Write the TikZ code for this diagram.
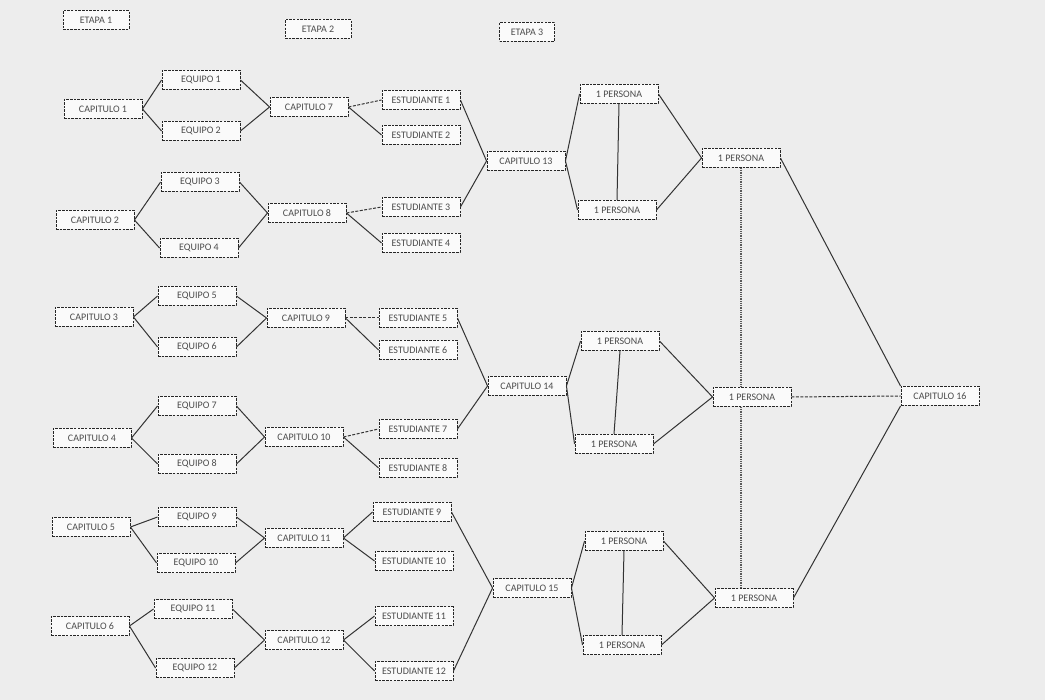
\documentclass[tikz,border=0pt]{standalone}
\usepackage{fontspec}
\setmainfont{Carlito}
\usetikzlibrary{calc}
\tikzset{
	caja/.style={draw=black!85, dash pattern=on 2.5pt off 1.2pt, line width=0.9pt, fill=black!2, minimum width=78pt, minimum height=19pt, inner sep=1pt, font=\fontsize{10}{11}\selectfont, text=black!70},
	etapa/.style={caja, minimum width=66pt},
	linea/.style={line width=1pt, color=black!80},
	lineapunt/.style={linea, dash pattern=on 3pt off 1.5pt},
	lineagruesa/.style={line width=2pt, color=black!65, dash pattern=on 1pt off 0.8pt}
}

\begin{document}
\begin{tikzpicture}[x=1pt, y=-1pt]
			%%%%% START %%%%%
			
			\fill[black!7] (0, 0) rectangle (1045, 700);
			\useasboundingbox (0, 0) rectangle (1045, 700);
			
			\node[etapa] (et1) at (96, 20) {ETAPA 1};
			\node[etapa] (et2) at (318, 29) {ETAPA 2};
			\node[etapa, minimum width=55pt] (et3) at (527, 32) {ETAPA 3};
			
			% etapa 1
			\node[caja] (c1) at (103, 109) {CAPITULO 1};
			\node[caja] (c2) at (95, 220) {CAPITULO 2};
			\node[caja] (c3) at (94, 317) {CAPITULO 3};
			\node[caja] (c4) at (92, 438) {CAPITULO 4};
			\node[caja] (c5) at (91, 527) {CAPITULO 5};
			\node[caja] (c6) at (90, 626) {CAPITULO 6};
			
			\node[caja] (e1) at (201, 80) {EQUIPO 1};
			\node[caja] (e2) at (201, 131) {EQUIPO 2};
			\node[caja] (e3) at (200, 182) {EQUIPO 3};
			\node[caja] (e4) at (199, 248) {EQUIPO 4};
			\node[caja] (e5) at (197, 296) {EQUIPO 5};
			\node[caja] (e6) at (197, 347) {EQUIPO 6};
			\node[caja] (e7) at (197, 406) {EQUIPO 7};
			\node[caja] (e8) at (197, 464) {EQUIPO 8};
			\node[caja] (e9) at (197, 517) {EQUIPO 9};
			\node[caja] (e10) at (196, 563) {EQUIPO 10};
			\node[caja] (e11) at (193, 609) {EQUIPO 11};
			\node[caja] (e12) at (195, 668) {EQUIPO 12};
			
			% etapa 2
			\node[caja] (c7) at (309, 107) {CAPITULO 7};
			\node[caja] (c8) at (307, 213) {CAPITULO 8};
			\node[caja] (c9) at (306, 318) {CAPITULO 9};
			\node[caja] (c10) at (304, 437) {CAPITULO 10};
			\node[caja] (c11) at (304, 538) {CAPITULO 11};
			\node[caja] (c12) at (304, 640) {CAPITULO 12};
			
			\node[caja] (s1) at (421, 100) {ESTUDIANTE 1};
			\node[caja] (s2) at (421, 135) {ESTUDIANTE 2};
			\node[caja] (s3) at (421, 207) {ESTUDIANTE 3};
			\node[caja] (s4) at (421, 243) {ESTUDIANTE 4};
			\node[caja] (s5) at (418, 318) {ESTUDIANTE 5};
			\node[caja] (s6) at (418, 350) {ESTUDIANTE 6};
			\node[caja] (s7) at (418, 429) {ESTUDIANTE 7};
			\node[caja] (s8) at (418, 468) {ESTUDIANTE 8};
			\node[caja] (s9) at (412, 512) {ESTUDIANTE 9};
			\node[caja] (s10) at (414, 561) {ESTUDIANTE 10};
			\node[caja] (s11) at (414, 616) {ESTUDIANTE 11};
			\node[caja] (s12) at (414, 671) {ESTUDIANTE 12};
			
			% etapa 3
			\node[caja] (c13) at (526, 161) {CAPITULO 13};
			\node[caja] (c14) at (527, 386) {CAPITULO 14};
			\node[caja] (c15) at (532, 588) {CAPITULO 15};
			
			\node[caja] (p1a) at (619, 94) {1 PERSONA};
			\node[caja] (p1b) at (617, 210) {1 PERSONA};
			\node[caja] (p2a) at (620, 341) {1 PERSONA};
			\node[caja] (p2b) at (614, 444) {1 PERSONA};
			\node[caja] (p3a) at (624, 541) {1 PERSONA};
			\node[caja] (p3b) at (622, 645) {1 PERSONA};
			
			\node[caja] (r1) at (741, 158) {1 PERSONA};
			\node[caja] (r2) at (752, 397) {1 PERSONA};
			\node[caja] (r3) at (754, 598) {1 PERSONA};
			
			\node[caja] (c16) at (940, 396) {CAPITULO 16};
			
			% conexiones etapa 1
			\draw[linea] (c1.east) -- (e1.west);
			\draw[linea] (c1.east) -- (e2.west);
			\draw[linea] (c2.east) -- (e3.west);
			\draw[linea] (c2.east) -- (e4.west);
			\draw[linea] (c3.east) -- (e5.west);
			\draw[linea] (c3.east) -- (e6.west);
			\draw[linea] (c4.east) -- (e7.west);
			\draw[linea] (c4.east) -- (e8.west);
			\draw[linea] (c5.east) -- (e9.west);
			\draw[linea] (c5.east) -- (e10.west);
			\draw[linea] (c6.east) -- (e11.west);
			\draw[linea] (c6.east) -- (e12.west);
			
			\draw[linea] (e1.east) -- (c7.west);
			\draw[linea] (e2.east) -- (c7.west);
			\draw[linea] (e3.east) -- (c8.west);
			\draw[linea] (e4.east) -- (c8.west);
			\draw[linea] (e5.east) -- (c9.west);
			\draw[linea] (e6.east) -- (c9.west);
			\draw[linea] (e7.east) -- (c10.west);
			\draw[linea] (e8.east) -- (c10.west);
			\draw[linea] (e9.east) -- (c11.west);
			\draw[linea] (e10.east) -- (c11.west);
			\draw[linea] (e11.east) -- (c12.west);
			\draw[linea] (e12.east) -- (c12.west);
			
			% conexiones etapa 2
			\draw[lineapunt] (c7.east) -- (s1.west);
			\draw[linea] (c7.east) -- (s2.west);
			\draw[lineapunt] (c8.east) -- (s3.west);
			\draw[linea] (c8.east) -- (s4.west);
			\draw[lineapunt] (c9.east) -- (s5.west);
			\draw[linea] (c9.east) -- (s6.west);
			\draw[lineapunt] (c10.east) -- (s7.west);
			\draw[linea] (c10.east) -- (s8.west);
			\draw[linea] (c11.east) -- (s9.west);
			\draw[linea] (c11.east) -- (s10.west);
			\draw[linea] (c12.east) -- (s11.west);
			\draw[linea] (c12.east) -- (s12.west);
			
			\draw[linea] (s1.east) -- (c13.west);
			\draw[linea] (s3.east) -- (c13.west);
			\draw[linea] (s5.east) -- (c14.west);
			\draw[linea] (s7.east) -- (c14.west);
			\draw[linea] (s9.east) -- (c15.west);
			\draw[linea] (s12.east) -- (c15.west);
			
			% conexiones etapa 3
			\draw[linea] (c13.east) -- (p1a.west);
			\draw[linea] (c13.east) -- (p1b.west);
			\draw[linea] (c14.east) -- (p2a.west);
			\draw[linea] (c14.east) -- (p2b.west);
			\draw[linea] (c15.east) -- (p3a.west);
			\draw[linea] (c15.east) -- (p3b.west);
			
			\draw[linea] (p1a.south) -- (p1b.north);
			\draw[linea] (p2a.south) -- (p2b.north);
			\draw[linea] (p3a.south) -- (p3b.north);
			
			\draw[linea] (p1a.east) -- (r1.west);
			\draw[linea] (p1b.east) -- (r1.west);
			\draw[linea] (p2a.east) -- (r2.west);
			\draw[linea] (p2b.east) -- (r2.west);
			\draw[linea] (p3a.east) -- (r3.west);
			\draw[linea] (p3b.east) -- (r3.west);
			
			\draw[lineagruesa] (r1.south) -- (r1.south |- r2.north);
			\draw[lineagruesa] (r1.south |- r2.south) -- (r1.south |- r3.north);
			
			\draw[linea] (r1.east) -- (c16.north west);
			\draw[lineapunt] (r2.east) -- (c16.west);
			\draw[linea] (r3.east) -- (c16.south west);
			
			%%%%% END %%%%%
\end{tikzpicture}
\end{document}
